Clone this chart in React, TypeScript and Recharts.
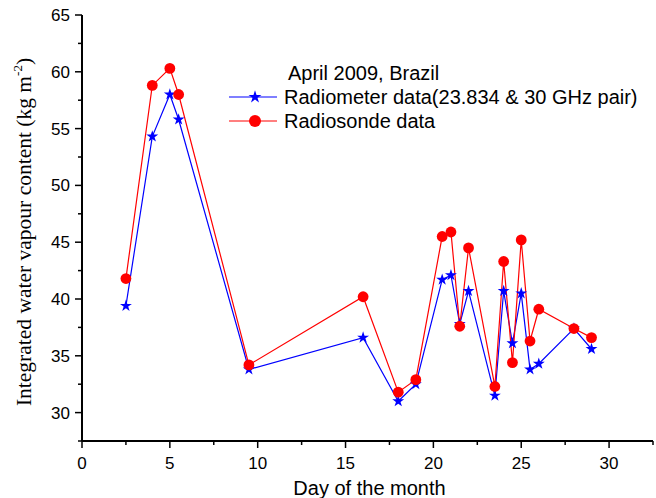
import { LineChart, Line, XAxis, YAxis, Legend, Symbols } from 'recharts';

// April 2009, Brazil - integrated water vapour
const days = [2.5, 4, 5, 5.5, 9.5, 16, 18, 19, 20.5, 21, 21.5, 22, 23.5, 24, 24.5, 25, 25.5, 26, 28, 29];
const radiometer = [39.4, 54.3, 58.0, 55.8, 33.8, 36.6, 31.0, 32.5, 41.7, 42.1, 37.8, 40.7, 31.5, 40.7, 36.1, 40.5, 33.8, 34.3, 37.4, 35.6];
const radiosonde = [41.8, 58.8, 60.3, 58.0, 34.2, 40.2, 31.8, 32.9, 45.5, 45.9, 37.6, 44.5, 32.3, 43.3, 34.4, 45.2, 36.3, 39.1, 37.4, 36.6];

const xTicks = [0, 2.5, 5, 7.5, 10, 12.5, 15, 17.5, 20, 22.5, 25, 27.5, 30, 32.5];
const yTicks = [27.5, 30, 32.5, 35, 37.5, 40, 42.5, 45, 47.5, 50, 52.5, 55, 57.5, 60, 62.5, 65];

const seriesNames = ['Radiometer data(23.834 & 30 GHz pair)', 'Radiosonde data'];
const legendTitle = 'April 2009, Brazil';

const data = days.map((d, i) => ({ day: d, radiometer: radiometer[i], radiosonde: radiosonde[i] }));

const BLUE = '#0000ff';
const RED = '#ff0000';
const SANS = '"Liberation Sans", Arial, Helvetica, sans-serif';
const SERIF = '"Liberation Serif", "Times New Roman", serif';

const XTick = (props: any) => {
  const { x, y, payload } = props;
  const v = payload.value;
  const major = v % 5 === 0;
  return (
    <g>
      <line x1={x} x2={x} y1={y} y2={y + (major ? 7 : 4)} stroke="#000" strokeWidth={1.5} />
      {major && (
        <text x={x} y={y + 28} textAnchor="middle" fontSize={17} fontFamily={SANS} fill="#000">
          {v}
        </text>
      )}
    </g>
  );
};

const YTick = (props: any) => {
  const { x, y, payload } = props;
  const v = payload.value;
  const major = v % 5 === 0;
  return (
    <g>
      <line x1={x} x2={x - (major ? 7 : 4)} y1={y} y2={y} stroke="#000" strokeWidth={1.5} />
      {major && (
        <text x={x - 12} y={y + 6} textAnchor="end" fontSize={17} fontFamily={SANS} fill="#000">
          {v}
        </text>
      )}
    </g>
  );
};

const StarDot = (props: any) => (
  <Symbols key={'s' + props.index} cx={props.cx} cy={props.cy} type="star" size={44} fill={BLUE} stroke="none" />
);

const CircleDot = (props: any) => (
  <circle key={'c' + props.index} cx={props.cx} cy={props.cy} r={5.4} fill={RED} stroke="none" />
);

const LegendBox = () => (
  <svg width={436} height={82} style={{ display: 'block' }}>
    <text x={68} y={25} fontSize={20} fontFamily={SANS} fill="#000">{legendTitle}</text>
    <line x1={9} x2={57} y1={42} y2={42} stroke={BLUE} strokeWidth={1.2} />
    <Symbols cx={35} cy={42} type="star" size={52} fill={BLUE} />
    <text x={64} y={49} fontSize={20} fontFamily={SANS} fill="#000">{seriesNames[0]}</text>
    <line x1={9} x2={57} y1={66} y2={66} stroke={RED} strokeWidth={1.2} />
    <circle cx={35} cy={66} r={6} fill={RED} />
    <text x={64} y={73} fontSize={20} fontFamily={SANS} fill="#000">{seriesNames[1]}</text>
  </svg>
);

export default function App() {
  return (
    <div style={{ position: 'absolute', left: 0, top: 0, width: 656, height: 498, background: '#fff' }}>
      <LineChart width={656} height={498} data={data} margin={{ top: 15, right: 3, bottom: 0, left: 0 }}>
        <XAxis
          dataKey="day"
          type="number"
          domain={[0, 32.5]}
          ticks={xTicks}
          interval={0}
          height={57}
          tickSize={0}
          tickMargin={0}
          tickLine={false}
          axisLine={{ stroke: '#000', strokeWidth: 2 }}
          tick={<XTick />}
          label={(p: any) => {
            const vb = p.viewBox;
            return (
              <text x={vb.x + vb.width / 2 + 2} y={494.5} textAnchor="middle" fontSize={20} fontFamily={SANS} fill="#000">
                Day of the month
              </text>
            );
          }}
        />
        <YAxis
          type="number"
          domain={[27.5, 65]}
          ticks={yTicks}
          interval={0}
          width={82}
          tickSize={0}
          tickMargin={0}
          tickLine={false}
          axisLine={{ stroke: '#000', strokeWidth: 2 }}
          tick={<YTick />}
          label={() => (
            <text x={31} y={232} transform="rotate(-90, 31, 232)" textAnchor="middle" fontSize={21.5} fontFamily={SERIF} fill="#000">
              Integrated water vapour content (kg m
              <tspan fontSize={13} dy={-9}>-2</tspan>
              <tspan dy={9}>)</tspan>
            </text>
          )}
        />
        <Legend
          layout="vertical"
          align="center"
          verticalAlign="middle"
          wrapperStyle={{ left: 220, top: 55, width: 436 }}
          content={() => <LegendBox />}
        />
        <Line
          dataKey="radiometer"
          name={seriesNames[0]}
          stroke={BLUE}
          strokeWidth={1.2}
          dot={StarDot}
          activeDot={false}
          isAnimationActive={false}
        />
        <Line
          dataKey="radiosonde"
          name={seriesNames[1]}
          stroke={RED}
          strokeWidth={1.2}
          dot={CircleDot}
          activeDot={false}
          isAnimationActive={false}
        />
      </LineChart>
    </div>
  );
}
